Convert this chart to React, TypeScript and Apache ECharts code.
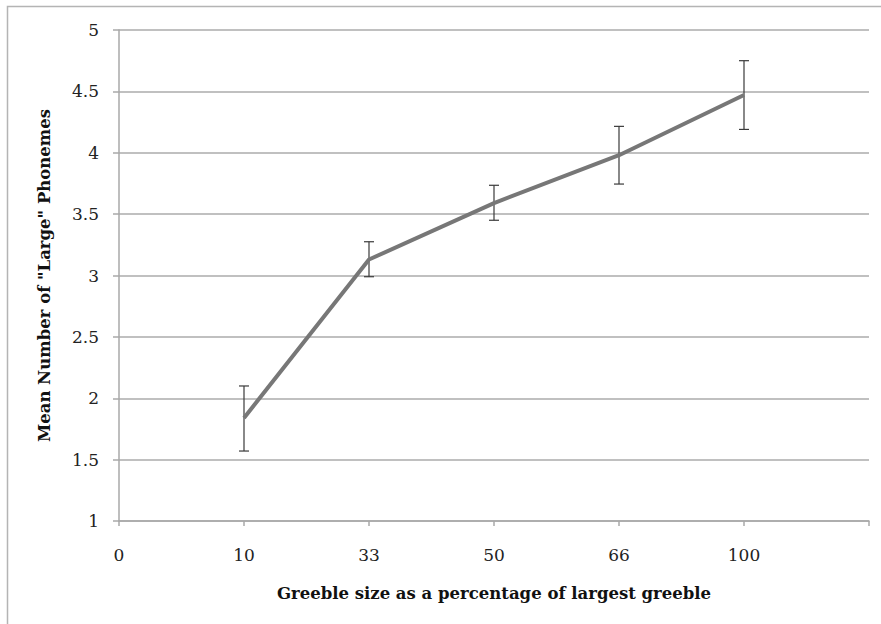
import React, { useEffect, useRef } from "react";
import * as echarts from "echarts";

const categories = ["0", "10", "33", "50", "66", "100", ""];
const meanValues: (number | string)[] = ["-", 1.84, 3.13, 3.59, 3.98, 4.47, "-"];
const errorLow: (number | null)[] = [null, 1.57, 2.99, 3.45, 3.745, 4.19, null];
const errorHigh: (number | null)[] = [null, 2.1, 3.275, 3.735, 4.215, 4.75, null];
const yTicks = { min: 1, max: 5, interval: 0.5 };
const xTitle = "Greeble size as a percentage of largest greeble";
const yTitle = 'Mean Number of "Large" Phonemes';

export default function App() {
  const ref = useRef<HTMLDivElement>(null);
  useEffect(() => {
    if (!ref.current) return;
    const chart = echarts.init(ref.current, null, { renderer: "svg" });
    const errData = categories
      .map((_, i) => (errorLow[i] == null ? null : [i, errorLow[i], errorHigh[i]]))
      .filter((d) => d != null);
    const font = "'DejaVu Serif', serif";
    chart.setOption({
      animation: false,
      backgroundColor: "#ffffff",
      grid: { left: 119, right: 12, top: 30, bottom: 103 },
      graphic: [
        {
          type: "rect",
          shape: { x: 7.5, y: 6.5, width: 900, height: 700 },
          style: { fill: "none", stroke: "#b4b4b4", lineWidth: 1.5 },
          silent: true,
        },
      ],
      xAxis: {
        type: "category",
        data: categories,
        boundaryGap: false,
        name: xTitle,
        nameLocation: "middle",
        nameGap: 64,
        nameTextStyle: { fontFamily: font, fontWeight: "bold", fontSize: 16.5, color: "#111" },
        axisLine: { lineStyle: { color: "#a8a8a8", width: 1.5 } },
        axisTick: { show: true, length: 5, alignWithLabel: true, lineStyle: { color: "#a8a8a8", width: 1.5 } },
        axisLabel: { fontFamily: font, fontSize: 17, color: "#222", margin: 25, interval: 0 },
        splitLine: { show: false },
      },
      yAxis: {
        type: "value",
        min: yTicks.min,
        max: yTicks.max,
        interval: yTicks.interval,
        name: yTitle,
        nameLocation: "middle",
        nameGap: 66,
        nameTextStyle: { fontFamily: font, fontWeight: "bold", fontSize: 16.5, color: "#111" },
        axisLine: { show: true, lineStyle: { color: "#a8a8a8", width: 1.5 } },
        axisTick: { show: true, length: 6, lineStyle: { color: "#a8a8a8", width: 1.5 } },
        axisLabel: { fontFamily: font, fontSize: 17, color: "#222", margin: 20 },
        splitLine: { show: true, lineStyle: { color: "#ababab", width: 1.5 } },
      },
      series: [
        {
          type: "custom",
          z: 1,
          data: errData,
          renderItem: (params: any, api: any) => {
            const x = api.value(0);
            const lo = api.coord([x, api.value(1)]);
            const hi = api.coord([x, api.value(2)]);
            const w = 5;
            const style = { stroke: "#3a3a3a", lineWidth: 1.2 };
            return {
              type: "group",
              children: [
                { type: "line", shape: { x1: lo[0], y1: lo[1], x2: hi[0], y2: hi[1] }, style },
                { type: "line", shape: { x1: lo[0] - w, y1: lo[1], x2: lo[0] + w, y2: lo[1] }, style },
                { type: "line", shape: { x1: hi[0] - w, y1: hi[1], x2: hi[0] + w, y2: hi[1] }, style },
              ],
            };
          },
        },
        {
          type: "line",
          z: 3,
          data: meanValues,
          showSymbol: false,
          symbol: "none",
          lineStyle: { color: "#777777", width: 4 },
          connectNulls: false,
        },
      ],
    });
    return () => chart.dispose();
  }, []);
  return (
    <div
      ref={ref}
      style={{ position: "fixed", left: 0, top: 0, width: 881, height: 624, background: "#fff" }}
    />
  );
}
